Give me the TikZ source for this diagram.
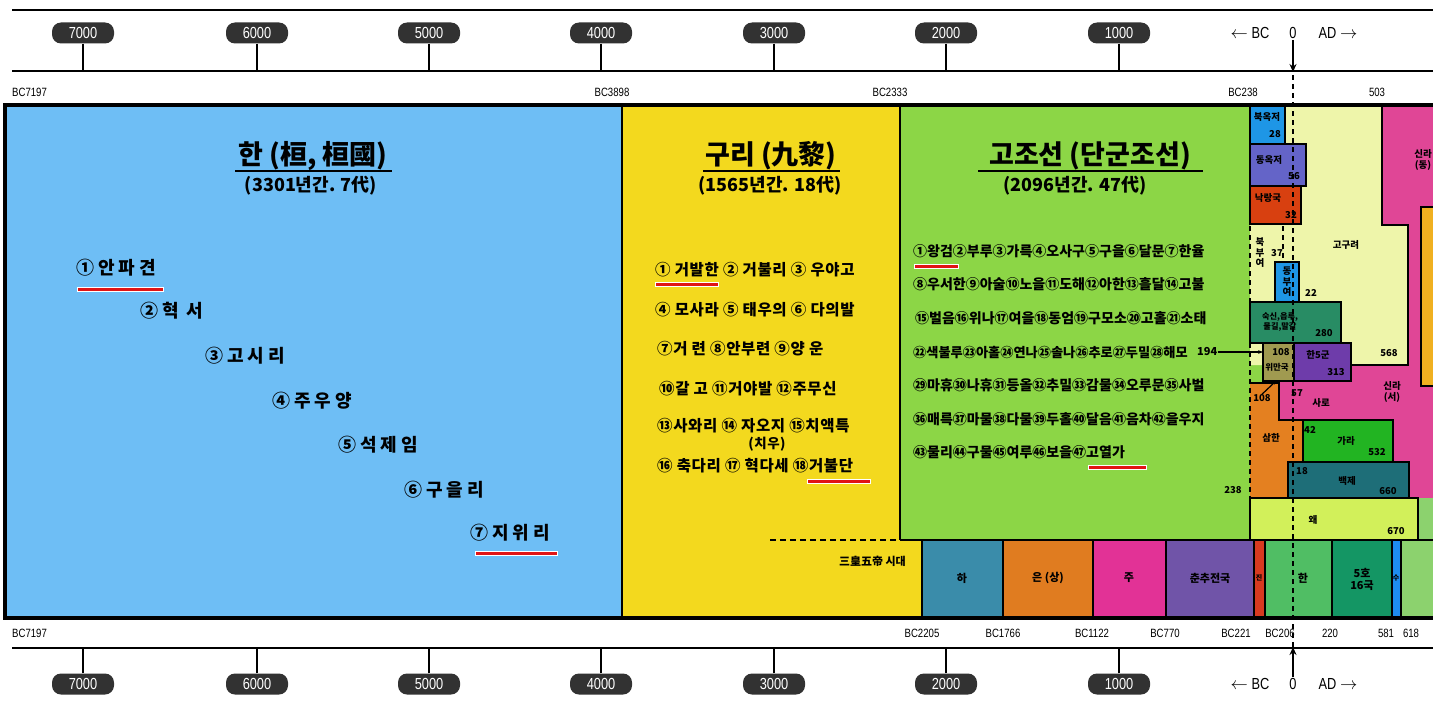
\documentclass[tikz,border=0pt]{standalone}
\usepackage{fontspec}
\setmainfont{Noto Sans CJK KR}
\newfontfamily\kr{Noto Sans CJK KR}
\newfontfamily\krsp{Noto Sans CJK KR}[LetterSpace=22]
\newfontfamily\krgu{Noto Sans CJK KR}[LetterSpace=4]
\newfontfamily\axf{Liberation Sans}[FakeStretch=0.8]
\usetikzlibrary{arrows.meta}
\definecolor{pillgray}{RGB}{50,50,50}
\definecolor{hanblue}{RGB}{110,190,245}
\definecolor{guriyel}{RGB}{243,217,30}
\definecolor{gojgreen}{RGB}{140,214,70}
\definecolor{xiac}{RGB}{58,140,170}
\definecolor{yinc}{RGB}{224,124,32}
\definecolor{zhouc}{RGB}{226,50,150}
\definecolor{chunc}{RGB}{112,84,168}
\definecolor{qinc}{RGB}{216,58,32}
\definecolor{hanc}{RGB}{80,190,100}
\definecolor{wuhuc}{RGB}{20,150,100}
\definecolor{suic}{RGB}{30,140,240}
\definecolor{tangc}{RGB}{140,210,110}
\definecolor{gogyel}{RGB}{238,245,170}
\definecolor{sillapink}{RGB}{224,70,150}
\definecolor{okjeoc}{RGB}{30,150,230}
\definecolor{dokjeoc}{RGB}{100,100,200}
\definecolor{nakc}{RGB}{216,64,16}
\definecolor{suksinc}{RGB}{40,140,100}
\definecolor{wimanc}{RGB}{160,154,80}
\definecolor{sagunc}{RGB}{110,60,170}
\definecolor{samhanc}{RGB}{228,128,32}
\definecolor{garac}{RGB}{34,180,34}
\definecolor{baekc}{RGB}{30,110,120}
\definecolor{waec}{RGB}{210,240,90}
\definecolor{ambr}{RGB}{240,176,32}
\definecolor{redu}{RGB}{225,20,20}
\begin{document}
\begin{tikzpicture}[x=1pt,y=-1pt,
  pill/.style={fill=pillgray, text=white, rounded corners=9pt, minimum width=62pt, minimum height=21pt, inner sep=0pt, font=\axf\fontsize{16}{16}\selectfont},
  tickl/.style={line width=1.6pt},
  axline/.style={line width=2.2pt},
  axlbl/.style={font=\axf\fontsize{12}{12}\selectfont, inner sep=1pt},
  box/.style={draw=black, line width=1.8pt},
  ttl/.style={font=\kr\bfseries\fontsize{27}{27}\selectfont, inner sep=1pt},
  subt/.style={font=\kr\bfseries\fontsize{18}{18}\selectfont, inner sep=1pt},
  hanl/.style={font=\krsp\bfseries\fontsize{18}{18}\selectfont, anchor=west, inner sep=0pt},
  gurl/.style={font=\krgu\bfseries\fontsize{15.5}{15.5}\selectfont, anchor=west, inner sep=0pt},
  gojl/.style={font=\kr\bfseries\fontsize{14}{14}\selectfont, anchor=west, inner sep=0pt},
  sm/.style={font=\kr\bfseries\fontsize{9.5}{10.5}\selectfont, inner sep=0pt, align=center},
  bcad/.style={font=\axf\fontsize{16}{16}\selectfont, inner sep=1pt},
  redbg/.style={white, line width=5pt},
  redfg/.style={redu, line width=3pt},
  zerodash/.style={line width=1.4pt, dash pattern=on 5pt off 4pt},
]
\useasboundingbox (0,0) rectangle (1433,701);
\clip (0,0) rectangle (1433,701);
\fill[white] (0,0) rectangle (1433,701);

% ---------- main backgrounds ----------
\fill[hanblue] (5,105) rectangle (622,618);
\fill[guriyel] (622,105) rectangle (900,618);
\fill[guriyel] (900,540) rectangle (922,618);
\fill[gojgreen] (900,105) rectangle (1250,540);
\fill[gojgreen] (1250,343) rectangle (1263,383);

% ---------- right region ----------
\fill[sillapink] (1382,105) rectangle (1445,498);
\fill[sillapink] (1279,365) rectangle (1445,498);
\fill[gogyel] (1250,105) -- (1382,105) -- (1382,225) -- (1408,225) -- (1408,365) -- (1250,365) -- cycle;
\draw[box] (1382,105) -- (1382,225) -- (1408,225) -- (1408,365) -- (1351,365);
\draw[box, fill=ambr] (1421,207) rectangle (1450,386);
\draw[box, fill=okjeoc] (1250,105) rectangle (1285,144);
\draw[box, fill=dokjeoc] (1250,144) rectangle (1306,186);
\draw[box, fill=nakc] (1250,186) rectangle (1301,224);
\draw[box, fill=okjeoc] (1275,262) rectangle (1299,302);
\draw[box, fill=suksinc] (1250,302) rectangle (1341,343);
\draw[box, fill=wimanc] (1263,343) rectangle (1294,381);
\coordinate (wimanW) at (1263,352);
\coordinate (wimanS) at (1276,381);
\draw[box, fill=sagunc] (1294,343) rectangle (1351,381);
\fill[samhanc] (1250,383) -- (1279,383) -- (1279,420) -- (1303,420) -- (1303,462) -- (1288,462) -- (1288,498) -- (1250,498) -- cycle;
\draw[box] (1250,383) -- (1279,383) -- (1279,420) -- (1303,420);
\draw[box, fill=garac] (1303,420) rectangle (1393,462);
\draw[box, fill=baekc] (1288,462) rectangle (1409,498);
\fill[tangc] (1418,498) rectangle (1445,540);
\draw[box, fill=waec] (1250,498) rectangle (1418,540);

% ---------- bottom row (China) ----------
\draw[box, fill=xiac] (922,540) rectangle (1003,618);
\draw[box, fill=yinc] (1003,540) rectangle (1093,618);
\draw[box, fill=zhouc] (1093,540) rectangle (1166,618);
\draw[box, fill=chunc] (1166,540) rectangle (1254,618);
\draw[box, fill=qinc] (1254,540) rectangle (1265,618);
\draw[box, fill=hanc] (1265,540) rectangle (1332,618);
\draw[box, fill=wuhuc] (1332,540) rectangle (1392,618);
\draw[box, fill=suic] (1392,540) rectangle (1401,618);
\draw[box, fill=tangc] (1401,540) rectangle (1450,618);
\draw[line width=1.8pt, dash pattern=on 6pt off 4pt] (770,540) -- (900,540);
\draw[line width=1.8pt] (900,540) -- (922,540);

% ---------- dividers and frame ----------
\draw[line width=1.8pt] (622,105) -- (622,618);
\draw[line width=1.8pt] (900,105) -- (900,540);
\draw[line width=1.8pt] (1250,105) -- (1250,224);
\draw[line width=4pt] (1450,105) -- (5,105) -- (5,618) -- (1450,618);

% ---------- dashed lines ----------
\draw[zerodash] (1293,75) -- (1293,648);
\draw[zerodash] (1250,226) -- (1250,540);
\draw[zerodash] (1283,226) -- (1283,262);
\draw[zerodash] (1418,500) -- (1418,540);

% ---------- titles ----------
\node[ttl] (hanT) at (313,156) {한 (桓, 桓國)};
\draw[line width=1.8pt] (235,171) -- (392,171);
\node[subt] (hanS) at (311,186) {(3301년간. 7代)};
\node[ttl] (guriT) at (771,156) {구리 (九黎)};
\draw[line width=1.8pt] (703,171) -- (840,171);
\node[subt] (guriS) at (770,186) {(1565년간. 18代)};
\node[ttl] (gojT) at (1090,156) {고조선 (단군조선)};
\draw[line width=1.8pt] (978,171) -- (1203,171);
\node[subt] (gojS) at (1075,186) {(2096년간. 47代)};

% ---------- Han list ----------
\node[hanl] (h1) at (76,268) {①안파견};
\node[hanl] (h2) at (140,311) {②혁 서};
\node[hanl] (h3) at (205,356) {③고시리};
\node[hanl] (h4) at (272,401) {④주우양};
\node[hanl] (h5) at (338,445) {⑤석제임};
\node[hanl] (h6) at (404,490) {⑥구을리};
\node[hanl] (h7) at (470,533) {⑦지위리};
\draw[redbg] (77,289) -- (164,289); \draw[redfg] (78,289) -- (163,289);
\draw[redbg] (475,553) -- (558,553); \draw[redfg] (476,553) -- (557,553);

% ---------- Guri list ----------
\node[gurl] (k1) at (655,270) {① 거발한 ② 거불리 ③ 우야고};
\node[gurl] (k2) at (655,310) {④ 모사라 ⑤ 태우의 ⑥ 다의발};
\node[gurl] (k3) at (657,349) {⑦거 련 ⑧안부련 ⑨양 운};
\node[gurl] (k4) at (659,389) {⑩갈 고 ⑪거야발 ⑫주무신};
\node[gurl] (k5) at (657,426) {⑬사와리 ⑭ 자오지 ⑮치액특};
\node[gurl, anchor=center, font=\krgu\bfseries\fontsize{13.5}{13.5}\selectfont] (k5b) at (767,444) {(치우)};
\node[gurl] (k6) at (657,466) {⑯ 축다리 ⑰ 혁다세 ⑱거불단};
\draw[redbg] (655,284) -- (719,284); \draw[redfg] (656,284) -- (718,284);
\draw[redbg] (807,481) -- (871,481); \draw[redfg] (808,481) -- (870,481);

% ---------- Gojoseon list ----------
\node[gojl] (g1) at (913,251) {①왕검②부루③가륵④오사구⑤구을⑥달문⑦한율};
\node[gojl] (g2) at (913,284) {⑧우서한⑨아술⑩노을⑪도해⑫아한⑬흘달⑭고불};
\node[gojl] (g3) at (915,318) {⑮벌음⑯위나⑰여을⑱동엄⑲구모소⑳고홀㉑소태};
\node[gojl, font=\kr\bfseries\fontsize{13.2}{13.2}\selectfont] (g4) at (913,352) {㉒색불루㉓아홀㉔연나㉕솔나㉖추로㉗두밀㉘해모};
\node[gojl] (g5) at (913,385) {㉙마휴㉚나휴㉛등올㉜추밀㉝감물㉞오루문㉟사벌};
\node[gojl] (g6) at (913,419) {㊱매륵㊲마물㊳다물㊴두홀㊵달음㊶음차㊷을우지};
\node[gojl] (g7) at (913,452) {㊸물리㊹구물㊺여루㊻보을㊼고열가};
\node[sm, font=\kr\bfseries\fontsize{11}{11}\selectfont, anchor=west] (n194) at (1197,352) {194};
\draw[-{Stealth[length=5pt]}, line width=1.2pt] (n194.east) -- (wimanW);
\draw[redbg] (914,266) -- (959,266); \draw[redfg] (915,266) -- (958,266);
\draw[redbg] (1088,467) -- (1147,467); \draw[redfg] (1089,467) -- (1146,467);

% ---------- right region labels ----------
\node[sm] (lbOkjeo) at (1267,117) {북옥저};
\node[sm] (lb28) at (1275,134) {28};
\node[sm] (lbDokjeo) at (1269,160) {동옥저};
\node[sm] (lb56) at (1294,176) {56};
\node[sm] (lbNak) at (1268,198) {낙랑국};
\node[sm] (lb32) at (1291,215) {32};
\node[sm] (lbBuk) at (1260,253) {북\\부\\여};
\node[sm] (lb37) at (1277,253) {37};
\node[sm] (lbDong) at (1287,282) {동\\부\\여};
\node[sm] (lb22) at (1311,293) {22};
\node[sm] (lbGogu) at (1346,245) {고구려};
\node[sm] (lbSillaE) at (1423,160) {신라\\(동)};
\node[sm, font=\kr\bfseries\fontsize{8.2}{10}\selectfont] (lbSuk) at (1280,322) {숙신,읍루,\\물길,말갈};
\node[sm] (lb280) at (1324,333) {280};
\node[sm] (lb108a) at (1281,352) {108};
\node[sm, font=\kr\bfseries\fontsize{8.5}{9}\selectfont] (lbWiman) at (1277,367) {위만국};
\node[sm] (lbSagun) at (1318,355) {한5군};
\node[sm] (lb313) at (1336,372) {313};
\node[sm] (lb568) at (1389,353) {568};
\node[sm] (lb108b) at (1262,398) {108};
\draw[-{Stealth[length=4pt]}, line width=1.2pt] (lb108b.north) -- (wimanS);
\node[sm] (lb57) at (1297,393) {57};
\node[sm] (lbSaro) at (1321,403) {사로};
\node[sm] (lbSillaW) at (1392,392) {신라\\(서)};
\node[sm] (lbSamhan) at (1271,438) {삼한};
\node[sm] (lb42) at (1310,430) {42};
\node[sm] (lbGara) at (1346,441) {가라};
\node[sm] (lb532) at (1377,452) {532};
\node[sm] (lb18) at (1302,471) {18};
\node[sm] (lbBaek) at (1347,481) {백제};
\node[sm] (lb660) at (1388,491) {660};
\node[sm] (lb238) at (1233,490) {238};
\node[sm] (lbWae) at (1313,520) {왜};
\node[sm] (lb670) at (1396,531) {670};

% ---------- bottom row labels ----------
\node[sm, font=\kr\bfseries\fontsize{11}{11}\selectfont, anchor=east] (lbSam) at (906,561) {三皇五帝 시대};
\node[sm, font=\kr\bfseries\fontsize{11}{11}\selectfont] (lbXia) at (962,578) {하};
\node[sm, font=\kr\bfseries\fontsize{11}{11}\selectfont] (lbYin) at (1048,578) {은 (상)};
\node[sm, font=\kr\bfseries\fontsize{11}{11}\selectfont] (lbZhou) at (1129,578) {주};
\node[sm, font=\kr\bfseries\fontsize{11}{11}\selectfont] (lbChun) at (1210,578) {춘추전국};
\node[sm, font=\kr\bfseries\fontsize{7}{7}\selectfont] (lbQin) at (1259,578) {진};
\node[sm, font=\kr\bfseries\fontsize{11}{11}\selectfont] (lbHan) at (1303,578) {한};
\node[sm, font=\kr\bfseries\fontsize{11}{12}\selectfont] (lbWuhu) at (1362,579) {5호\\16국};
\node[sm, font=\kr\bfseries\fontsize{7}{7}\selectfont] (lbSui) at (1396,578) {수};

% ---------- axes ----------
\draw[axline] (12,10) -- (1433,10);
\draw[axline] (12,71) -- (1433,71);
\draw[axline] (12,648) -- (1433,648);
\foreach \v/\x in {7000/83,6000/257,5000/429,4000/601,3000/774,2000/946,1000/1119} {
  \node[pill] (pt\v) at (\x,33) {\v};
  \draw[tickl] (pt\v.south) -- (\x,71);
  \node[pill] (pb\v) at (\x,684) {\v};
  \draw[tickl] (pb\v.north) -- (\x,648);
}
\node[bcad] (bcT) at (1250,33) {$\leftarrow$ BC};
\node[bcad] (zeroT) at (1293,33) {0};
\node[bcad] (adT) at (1338,33) {AD $\rightarrow$};
\coordinate (zeroTline) at (1293,72);
\draw[-{Stealth[length=8pt,width=7pt]}, line width=1.6pt] (zeroT.south) -- (zeroTline);
\node[bcad] (bcB) at (1250,684) {$\leftarrow$ BC};
\node[bcad] (zeroB) at (1293,684) {0};
\node[bcad] (adB) at (1338,684) {AD $\rightarrow$};
\coordinate (zeroBline) at (1293,647);
\draw[-{Stealth[length=8pt,width=7pt]}, line width=1.6pt] (zeroB.north) -- (zeroBline);

% ---------- year labels ----------
\node[axlbl, anchor=west] (y7197t) at (11,92) {BC7197};
\node[axlbl] (y3898) at (612,92) {BC3898};
\node[axlbl] (y2333) at (890,92) {BC2333};
\node[axlbl] (y238) at (1243,92) {BC238};
\node[axlbl] (y503) at (1377,92) {503};
\node[axlbl, anchor=west] (y7197b) at (11,633) {BC7197};
\node[axlbl] (y2205) at (922,633) {BC2205};
\node[axlbl] (y1766) at (1003,633) {BC1766};
\node[axlbl] (y1122) at (1092,633) {BC1122};
\node[axlbl] (y770) at (1165,633) {BC770};
\node[axlbl] (y221) at (1236,633) {BC221};
\node[axlbl] (y206) at (1280,633) {BC206};
\node[axlbl] (y220) at (1330,633) {220};
\node[axlbl] (y581) at (1386,633) {581};
\node[axlbl] (y618) at (1411,633) {618};
\end{tikzpicture}
\end{document}
